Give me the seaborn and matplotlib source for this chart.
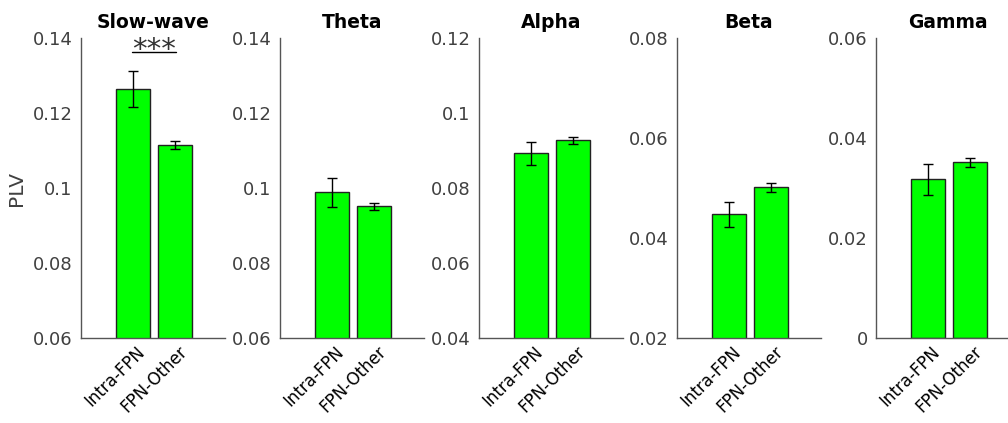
import matplotlib
matplotlib.use("Agg")
import matplotlib.pyplot as plt
import matplotlib.transforms as mtransforms
import numpy as np
import pandas as pd
import seaborn as sns

sns.set_style("white")
plt.rcParams['font.family'] = ['DejaVu Sans']

# Data
bands = ['Slow-wave', 'Theta', 'Alpha', 'Beta', 'Gamma']
groups = ['Intra-FPN', 'FPN-Other']
plv_intra = [0.1263, 0.0989, 0.0892, 0.0447, 0.0317]
plv_other = [0.1115, 0.0951, 0.0927, 0.0501, 0.0351]
err_intra = [0.0048, 0.0039, 0.0031, 0.0025, 0.0031]
err_other = [0.0011, 0.0010, 0.0010, 0.0009, 0.0009]
ylims = [(0.06, 0.14), (0.06, 0.14), (0.04, 0.12), (0.02, 0.08), (0.0, 0.06)]
yticks = [[0.06, 0.08, 0.1, 0.12, 0.14],
          [0.06, 0.08, 0.1, 0.12, 0.14],
          [0.04, 0.06, 0.08, 0.1, 0.12],
          [0.02, 0.04, 0.06, 0.08],
          [0, 0.02, 0.04, 0.06]]
ytick_labels = [['0.06', '0.08', '0.1', '0.12', '0.14'],
                ['0.06', '0.08', '0.1', '0.12', '0.14'],
                ['0.04', '0.06', '0.08', '0.1', '0.12'],
                ['0.02', '0.04', '0.06', '0.08'],
                ['0', '0.02', '0.04', '0.06']]
sig_y = 0.1362  # significance bar in slow-wave panel

W, H = 1008, 423
fig = plt.figure(figsize=(W / 100, H / 100), dpi=100)
lefts = [81, 280, 479, 677, 876]
ax_w, ax_top, ax_bot = 144, 38, 338
grey = '#404040'

for i, band in enumerate(bands):
    ax = fig.add_axes([lefts[i] / W, 1 - ax_bot / H, ax_w / W, (ax_bot - ax_top) / H])
    df = pd.DataFrame({'group': groups,
                       'plv': [plv_intra[i], plv_other[i]],
                       'err': [err_intra[i], err_other[i]]})
    sns.barplot(data=df, x='group', y='plv', order=groups, color='#00ff00',
                saturation=1, width=0.8, edgecolor='#222222', linewidth=1.0,
                errorbar=None, ax=ax)
    ax.errorbar(np.arange(len(groups)), df['plv'], yerr=df['err'], fmt='none',
                ecolor='black', elinewidth=1.0, capsize=3.5, capthick=1.0)

    ax.set_xlim(-1.24, 2.19)
    ax.set_ylim(*ylims[i])
    ax.set_yticks(yticks[i])
    ax.set_yticklabels(ytick_labels[i])
    ax.set_xlabel('')
    ax.set_ylabel('PLV' if i == 0 else '', fontsize=14.5, color=grey, labelpad=5)
    ax.set_title(band, fontsize=13.5, fontweight='bold', pad=7, color='black')

    for s in ['top', 'right']:
        ax.spines[s].set_visible(False)
    for s in ['left', 'bottom']:
        ax.spines[s].set_color('#555555')
        ax.spines[s].set_linewidth(1.0)
    ax.tick_params(axis='y', direction='in', length=3, width=0.8, colors='#555555',
                   labelcolor=grey, labelsize=13, pad=6)
    ax.tick_params(axis='x', direction='in', length=3, width=0.8, colors='#555555',
                   labelcolor='black', labelsize=12, pad=8)
    offset = mtransforms.ScaledTranslation(9 / 100, 0, fig.dpi_scale_trans)
    for lab in ax.get_xticklabels():
        lab.set_rotation(45)
        lab.set_ha('right')
        lab.set_va('center')
        lab.set_rotation_mode('anchor')
        lab.set_transform(lab.get_transform() + offset)

    if i == 0:
        ax.plot([-0.03, 1.03], [sig_y, sig_y], color='black', lw=1.0)
        ax.annotate('***', xy=(0.5, sig_y), xytext=(0, -4), textcoords='offset points',
                    ha='center', va='baseline', fontsize=21, color='#333333')

fig.savefig('out.png', dpi=100)
